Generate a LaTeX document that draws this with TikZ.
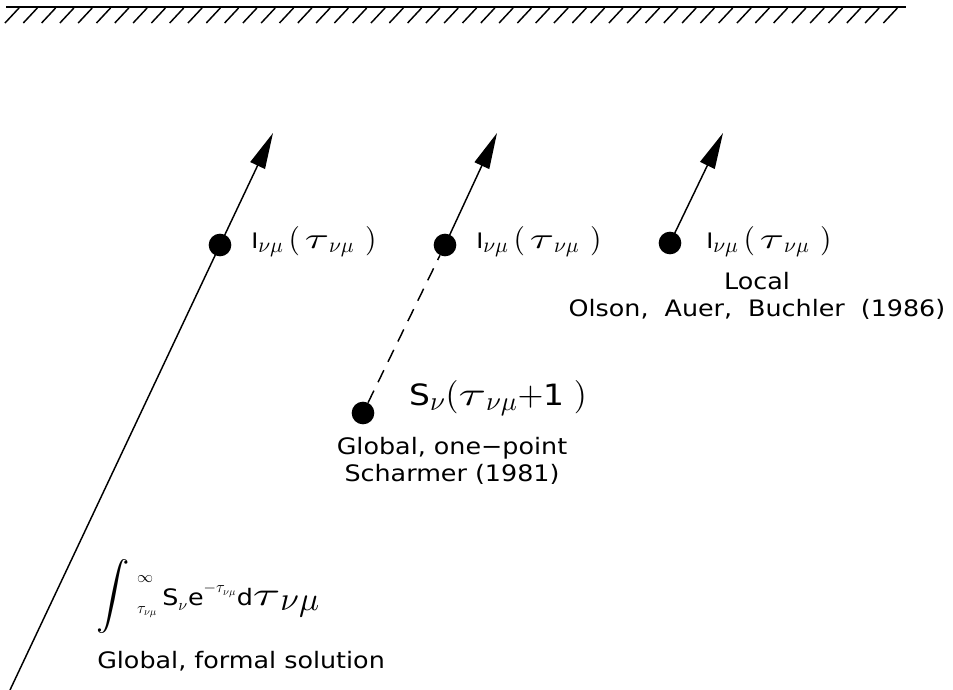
\documentclass[tikz,border=0pt]{standalone}
\usepackage{graphicx}
\usepackage[no-math]{fontspec}
\setmainfont{DejaVu Sans}[FakeStretch=1.12]
\usetikzlibrary{positioning,arrows.meta}
\DeclareFontShape{OT1}{cmr}{m}{n}{<->cmr10}{}
\DeclareFontShape{OML}{cmm}{m}{it}{<->cmmi10}{}
\DeclareFontShape{OMS}{cmsy}{m}{n}{<->cmsy10}{}
\DeclareFontShape{OMX}{cmex}{m}{n}{<->cmex10}{}
\DeclareMathSizes{16}{22}{16}{12}
\DeclareMathSizes{17}{25}{12}{8}
\DeclareMathSizes{22}{25}{20}{14}
\newcommand{\wtau}{\mathord{\scalebox{1.5}[1]{$\tau$}}}
\newcommand{\lims}[2]{\vcenter{\hbox{$\scriptstyle#1$}\vskip3pt\hbox{$\scriptstyle#2$}}}
\tikzset{
  dot/.style={circle,fill,inner sep=0pt,minimum size=17pt},
  ray/.style={line width=1.1pt,-{Triangle[length=27pt,width=12pt]}},
  lbl/.style={inner sep=0pt,font=\fontsize{16}{20}\selectfont},
  big/.style={inner sep=0pt,font=\fontsize{22}{26}\selectfont},
  note/.style={inner sep=0pt,align=center,font=\fontsize{17}{20.5}\selectfont},
}
\begin{document}
\begin{tikzpicture}[x=0.75pt,y=-0.75pt]
        \useasboundingbox (0,0) rectangle (953,689);
        % surface
        \draw[line width=1.1pt] (6,7) -- (906,7);
        \foreach \x in {5,23.3,...,890}
          \draw[line width=1.1pt] (\x+14,8) -- (\x,23);
        \node[dot] (D1) at (220,245) {};
        \node[dot] (D2) at (445,245) {};
        \node[dot] (D3) at (670,243) {};
        \node[dot] (S) at (363,413) {};
        \coordinate (T1) at (273,133);
        \coordinate (T2) at (497,133);
        \coordinate (T3) at (723,133);
        \coordinate (B) at (10,690);
        \node[lbl,anchor=base west] (I1) at (251,248) {I$_{\nu\mu}\,(\,\wtau_{\nu\mu}\hspace{8pt})$};
        \node[lbl,anchor=base west] (I2) at (476,248) {I$_{\nu\mu}\,(\,\wtau_{\nu\mu}\hspace{8pt})$};
        \node[lbl,anchor=base west] (I3) at (706,248) {I$_{\nu\mu}\,(\,\wtau_{\nu\mu}\hspace{8pt})$};
        \node[big,anchor=base west] (SL) at (409,405) {S$_{\nu}(\wtau_{\nu\mu}{+}\mbox{1}\hspace{7pt})$};
        \node[note,anchor=north] (loc) at (757,272) {Local\\{\spaceskip=12pt Olson, Auer, Buchler (1986)}};
        \node[note,anchor=north] (glob) at (452,437) {Global, one−point\\Scharmer (1981)};
        \node[note,anchor=base west] (F) at (96,605) {$\displaystyle\int\mkern1mu\lims{\infty}{\tau_{\nu\mu}}$\hspace{4pt}S$_\nu$e$^{-\tau_{\nu\mu}}$d$\wtau_{\textstyle\nu\mu}$};
        \node[note,anchor=base west] (FL) at (97,668) {Global, formal solution};
        \draw[line width=1.1pt] (B) to (D1.center);
        \draw[ray] (D1.center) to (T1);
        \draw[ray] (D2.center) to (T2);
        \draw[ray] (D3.center) to (T3);
        \draw[line width=1.1pt,dash pattern=on 10pt off 7pt] (S) to (D2);
\end{tikzpicture}
\end{document}
